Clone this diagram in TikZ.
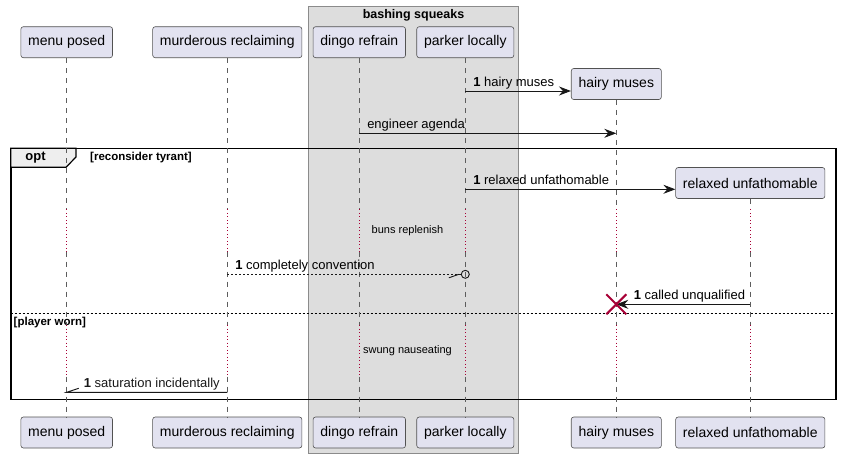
\documentclass[tikz,border=0pt]{standalone}
\usepackage{fontspec}
\setmainfont{Liberation Sans}
\usetikzlibrary{arrows.meta,positioning}
\definecolor{partfill}{HTML}{E2E2F0}
\definecolor{boxfill}{HTML}{DDDDDD}
\definecolor{tabfill}{HTML}{EEEEEE}
\definecolor{ink}{HTML}{181818}
\definecolor{delayred}{HTML}{A80036}

\begin{document}
\begin{tikzpicture}[
    x=1pt,y=-1pt,
    part/.style={draw=ink!75,fill=partfill,rounded corners=2.5pt,line width=0.6pt,minimum height=31pt,inner xsep=7.3pt,font=\fontsize{14}{16}\selectfont},
    life/.style={draw=ink!70,line width=0.6pt,dash pattern=on 5pt off 5pt},
    delay/.style={draw=delayred,line width=0.8pt,dash pattern=on 1pt off 2.5pt},
    msg/.style={draw=ink,line width=0.9pt,-{Stealth[length=12pt,width=9pt,inset=4pt]}},
    reply/.style={draw=ink,line width=0.9pt,dash pattern=on 2pt off 2pt},
    lbl/.style={anchor=base west,inner sep=0pt,font=\fontsize{13}{15}\selectfont},
    dlbl/.style={inner sep=0pt,font=\fontsize{11}{13}\selectfont},
    glbl/.style={inner sep=0pt,font=\fontsize{11.5}{13}\selectfont\bfseries},
    frame/.style={draw=black,line width=1.6pt}
  ]
    \useasboundingbox (0,0) rectangle (841,458);

    % box round the grouped participants
    \draw[draw=ink!50,fill=boxfill,line width=0.8pt] (308.3,6) rectangle (518.7,453.3);
    \node[inner sep=0pt,font=\fontsize{12.5}{14}\selectfont\bfseries] (squeaks) at (413.5,15.5) {bashing squeaks};

    % participants, top and bottom
    \node[part] (menu) at (66.7,42.2) {menu posed};
    \node[part] (murder) at (227.3,42.2) {murderous reclaiming};
    \node[part] (dingo) at (359.3,42.2) {dingo refrain};
    \node[part] (parker) at (465.3,42.2) {parker locally};
    \node[part] (hairy) at (616.3,84) {hairy muses};
    \node[part] (relaxed) at (750.3,183) {relaxed unfathomable};
    \node[part] (menu-b) at (66.7,432.5) {menu posed};
    \node[part] (murder-b) at (227.3,432.5) {murderous reclaiming};
    \node[part] (dingo-b) at (359.3,432.5) {dingo refrain};
    \node[part] (parker-b) at (465.3,432.5) {parker locally};
    \node[part] (hairy-b) at (616.3,432.5) {hairy muses};
    \node[part] (relaxed-b) at (750.3,432.5) {relaxed unfathomable};

    % rows
    \coordinate (r1) at (0,91);
    \coordinate (r2) at (0,133.3);
    \coordinate (r3) at (0,189.3);
    \coordinate (r4) at (0,274.3);
    \coordinate (r5) at (0,304.3);
    \coordinate (r6) at (0,392.3);
    \coordinate (d1s) at (0,209.3);
    \coordinate (d1e) at (0,251.5);
    \coordinate (d2s) at (0,325);
    \coordinate (d2e) at (0,376.5);

    % opt frame
    \coordinate (optnw) at (10.7,148.3);
    \coordinate (optse) at (835.7,399.3);
    \draw[frame] (optnw) rectangle (optse);
    \draw[frame,line width=1.2pt,fill=tabfill] (optnw) -- (76,148.3) -- (76,157) -- (66,167.3) -- (10.7,167.3) -- cycle;
    \node[glbl,font=\fontsize{13}{15}\selectfont\bfseries] (opt) at (35.5,158) {opt};
    \node[glbl,anchor=west] (cond1) at (90,158) {[reconsider tyrant]};
    \draw[line width=0.8pt,dash pattern=on 2pt off 2pt] (optnw |- 0,313.3) -- (optse |- 0,313.3);
    \node[glbl,anchor=west] (cond2) at (13.5,322.5) {[player worn]};

    % lifelines
    \foreach \p in {menu,murder,dingo,parker,hairy,relaxed}{
      \draw[life] (\p.south) -- (\p.south |- d1s);
      \draw[delay] (\p.south |- d1s) -- (\p.south |- d1e);
      \draw[life] (\p.south |- d1e) -- (\p.south |- d2s);
      \draw[delay] (\p.south |- d2s) -- (\p.south |- d2e);
      \draw[life] (\p.south |- d2e) -- (\p-b.north);
    }

    % delays
    \node[dlbl] (buns) at (407.5,231) {buns replenish};
    \node[dlbl] (swung) at (407.5,350.5) {swung nauseating};

    % messages
    \draw[msg] (parker.south |- r1) -- (hairy.west |- r1)
      node[lbl,at start,xshift=7.5pt,yshift=4.5pt] (m1) {\textbf{1} hairy muses};
    \draw[msg] (dingo.south |- r2) -- (hairy.south |- r2)
      node[lbl,at start,xshift=7.5pt,yshift=4.5pt] (m2) {engineer agenda};
    \draw[msg] (parker.south |- r3) -- (relaxed.west |- r3)
      node[lbl,at start,xshift=7.5pt,yshift=4.5pt] (m3) {\textbf{1} relaxed unfathomable};

    \node[circle,draw=ink,line width=0.9pt,inner sep=0pt,minimum size=8pt] (cc) at (parker.south |- r4) {};
    \draw[reply] (murder.south |- r4) -- (cc.west)
      node[lbl,at start,xshift=7.5pt,yshift=4.5pt] (m4) {\textbf{1} completely convention};
    \draw[ink,line width=0.9pt] ([shift={(-12,3.5)}]cc.west) -- ([xshift=-2pt]cc.west);

    \coordinate (kill) at (hairy.south |- r5);
    \draw[msg] (relaxed.south |- r5) -- (kill)
      node[lbl,at end,xshift=17pt,yshift=4.5pt] (m5) {\textbf{1} called unqualified};
    \draw[delayred,line width=2pt] ([shift={(-10,-10)}]kill) -- ([shift={(10,10)}]kill)
      ([shift={(-10,10)}]kill) -- ([shift={(10,-10)}]kill);

    \draw[ink,line width=0.9pt] (murder.south |- r6) -- (menu.south |- r6)
      node[lbl,at end,xshift=16.7pt,yshift=4.5pt] (m6) {\textbf{1} saturation incidentally}
      -- ++(12,-4);
  \end{tikzpicture}
\end{document}
